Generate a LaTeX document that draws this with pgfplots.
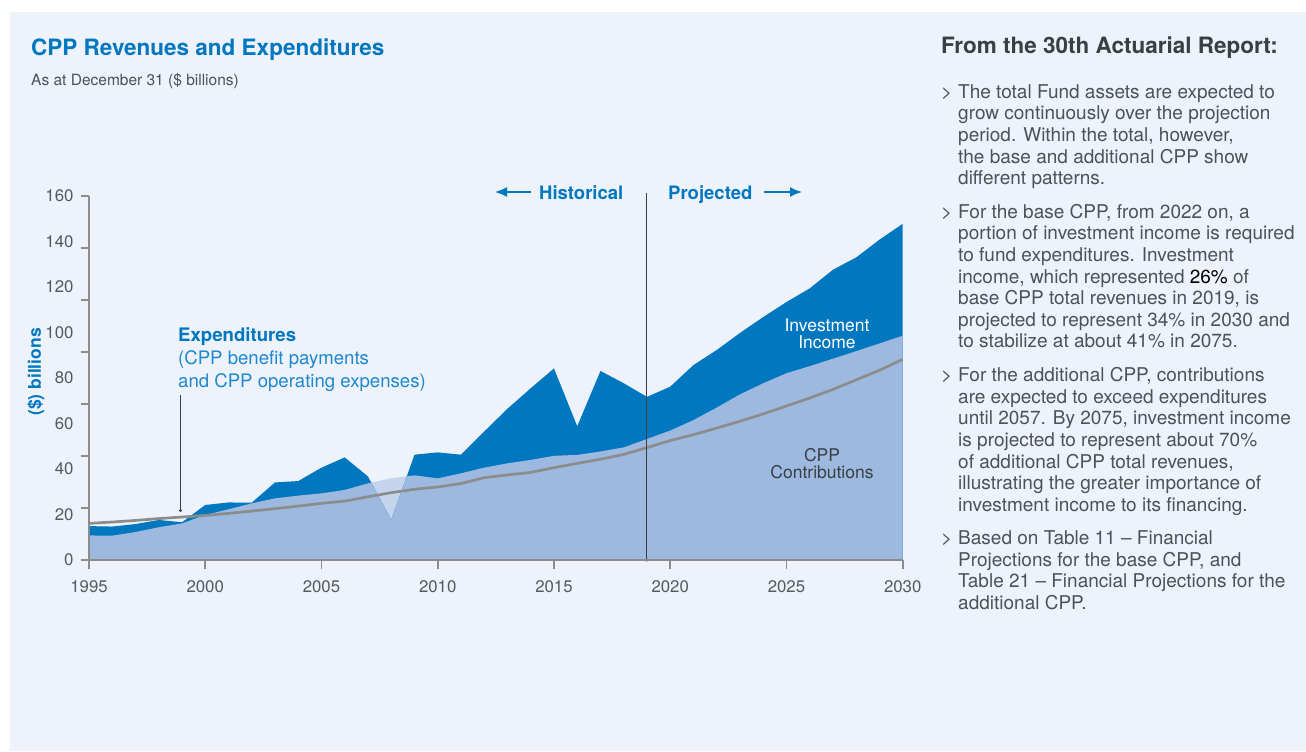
\documentclass[border=0pt]{standalone}
\usepackage{fontspec}
\setmainfont{TeX Gyre Heros}
\usepackage{pgfplots}
\pgfplotsset{compat=1.18}
\usepackage{pgfplotstable}
\usetikzlibrary{arrows.meta}

\definecolor{bg}{HTML}{EEF2FB}
\definecolor{dblue}{HTML}{0077BE}
\definecolor{lblue}{HTML}{9DB9E0}
\definecolor{pblue}{HTML}{C5D5EE}
\definecolor{lgray}{HTML}{8C8C8C}
\definecolor{txt}{HTML}{4D5259}
\definecolor{ttl}{HTML}{3A3F44}
\definecolor{annblue}{HTML}{1E88CF}
\definecolor{tickgray}{HTML}{555A60}

\newcommand{\fs}[2]{\fontsize{#1bp}{#2bp}\selectfont}

\pgfplotstableread{
year contrib total exp
1995 10.8 14.9 16.1
1996 10.7 14.7 16.7
1997 12.3 15.8 17.4
1998 14.4 17.6 18.2
1999 16.1 16.6 18.9
2000 19.8 24.2 19.6
2001 22.3 25.3 20.5
2002 24.9 25.2 21.5
2003 27.1 34.1 22.6
2004 28.3 34.7 23.7
2005 29.3 40.6 24.9
2006 30.8 45.1 25.9
2007 33.7 36.7 27.8
2008 36.0 17.6 29.6
2009 37.2 46.3 31.1
2010 35.9 47.3 32.1
2011 38.1 46.3 33.6
2012 40.6 56.5 36.2
2013 42.5 66.5 37.4
2014 44.0 75.5 38.5
2015 45.8 84.2 40.6
2016 46.2 58.8 42.5
2017 47.7 83.1 44.3
2018 49.5 77.7 46.4
2019 53.2 71.7 49.4
2020 56.9 76.2 52.5
2021 61.5 85.7 55.1
2022 67.0 92.3 58.0
2023 72.8 99.8 61.0
2024 77.7 106.8 64.2
2025 82.1 113.4 67.7
2026 85.2 119.4 71.2
2027 88.5 127.6 75.0
2028 91.8 133.0 79.2
2029 95.2 140.8 83.4
2030 98.6 147.8 88.2
}\cppdata

% lower of contributions and total revenues (total dips below contributions in 2008)
\pgfplotstableread{
year v
1995 10.8
1996 10.7
1997 12.3
1998 14.4
1999 16.1
2000 19.8
2001 22.3
2002 24.9
2003 27.1
2004 28.3
2005 29.3
2006 30.8
2007 33.7
2007.14 34.02
2008 17.6
2008.669 36.80
2009 37.2
2010 35.9
2011 38.1
2012 40.6
2013 42.5
2014 44.0
2015 45.8
2016 46.2
2017 47.7
2018 49.5
2019 53.2
2020 56.9
2021 61.5
2022 67.0
2023 72.8
2024 77.7
2025 82.1
2026 85.2
2027 88.5
2028 91.8
2029 95.2
2030 98.6
}\minser

\begin{document}
\begin{tikzpicture}[x=1bp,y=-1bp]
\fill[white] (0,0) rectangle (1306,751);
\fill[bg] (10,12) rectangle (1306,751);

\node[anchor=base west, inner sep=0, text=dblue, font=\bfseries\fs{22.5}{26}] at (31,56) {CPP Revenues and Expenditures};
\node[anchor=base west, inner sep=0, text=txt, font=\fs{15.5}{18}] at (31,85) {As at December 31 (\$ billions)};

\begin{axis}[
  at={(89bp,-560bp)}, anchor=south west,
  scale only axis, width=813.7bp, height=364bp,
  xmin=1995, xmax=2030, ymin=0, ymax=160,
  clip=false,
  axis on top,
  axis lines=left,
  axis line style={lgray, line width=1.8bp, -},
  every tick/.style={lgray, line width=1.8bp},
  tick align=outside,
  major tick length=8.5bp,
  xtick={1995,2000,...,2030},
  ytick={0,22.857143,45.714286,68.571429,91.428571,114.285714,137.142857,160},
  yticklabels={},
  extra y ticks={0,20,...,160},
  extra y tick style={major tick length=0pt, yticklabel style={xshift=-12bp}},
  tick label style={font=\fs{16.8}{18}, text=tickgray},
  xticklabel style={yshift=-9bp},
  /pgf/number format/assume math mode=true,
  /pgf/number format/1000 sep={},
]
\addplot[draw=none, fill=pblue] table[x=year, y=contrib] {\cppdata} \closedcycle;
\addplot[draw=none, fill=dblue] table[x=year, y=total] {\cppdata} \closedcycle;
\addplot[draw=none, fill=lblue] table[x=year, y=v] {\minser} \closedcycle;
\addplot[lgray, line width=2.7bp, line join=round] table[x=year, y=exp] {\cppdata};
\draw[ttl, line width=1bp] (axis cs:2019,0) -- (axis cs:2019,161.3);
\fill[ttl] (axis cs:2019,0) circle (1.6bp);
\end{axis}

\node[rotate=90, text=dblue, font=\bfseries\fs{17.5}{20}] at (36,372) {(\$) billions};

\node[anchor=base west, inner sep=0, text=dblue, font=\bfseries\fs{18.6}{23}] at (178,341) {Expenditures};
\node[anchor=base west, inner sep=0, text=annblue, font=\fs{18.6}{23}] at (178,364) {(CPP benefit payments};
\node[anchor=base west, inner sep=0, text=annblue, font=\fs{18.6}{23}] at (178,387) {and CPP operating expenses)};
\draw[ttl, line width=1bp] (180.5,395) -- (180.5,510);
\fill[ttl] (180.5,510.5) circle (1.6);

\draw[dblue, line width=1.6bp, -{Latex[length=12bp,width=10bp]}] (531,192) -- (495,192);
\node[anchor=base west, inner sep=0, text=dblue, font=\bfseries\fs{18.5}{22}] at (539,199.3) {Historical};
\node[anchor=base west, inner sep=0, text=dblue, font=\bfseries\fs{18.5}{22}] at (668,199.3) {Projected};
\draw[dblue, line width=1.6bp, -{Latex[length=12bp,width=10bp]}] (764,192) -- (802,192);

\node[anchor=base, inner sep=0, text=white, font=\fs{17.5}{18}] at (827,331) {Investment};
\node[anchor=base, inner sep=0, text=white, font=\fs{17.5}{18}] at (827,348.7) {Income};
\node[anchor=base, inner sep=0, text=ttl, font=\fs{17.5}{18}] at (822,461) {CPP};
\node[anchor=base, inner sep=0, text=ttl, font=\fs{17.5}{18}] at (822,478.3) {Contributions};

\node[anchor=base west, inner sep=0, text=ttl, font=\bfseries\fs{22.5}{25}] at (941,54) {From the 30th Actuarial Report:};

\foreach \yy in {98.3,218.3,381.7,544.5}
  \node[anchor=base west, inner sep=0, text=txt, font=\fs{19}{21.6}] at (941,\yy) {>};

\foreach \yy/\tt in {
  98.3/{The total Fund assets are expected to},
  119.9/{grow continuously over the projection},
  141.5/{period. Within the total, however,},
  163.1/{the base and additional CPP show},
  184.7/{different patterns.},
  218.3/{For the base CPP, from 2022 on, a},
  239.9/{portion of investment income is required},
  261.5/{to fund expenditures. Investment},
  283.1/{income, which represented \textcolor{black}{26\%} of},
  304.7/{base CPP total revenues in 2019, is},
  326.3/{projected to represent 34\% in 2030 and},
  347.9/{to stabilize at about 41\% in 2075.},
  381.7/{For the additional CPP, contributions},
  403.3/{are expected to exceed expenditures},
  424.9/{until 2057. By 2075, investment income},
  446.5/{is projected to represent about 70\%},
  468.1/{of additional CPP total revenues,},
  489.7/{illustrating the greater importance of},
  511.3/{investment income to its financing.},
  544.5/{Based on Table 11 -- Financial},
  566.1/{Projections for the base CPP, and},
  587.7/{Table 21 -- Financial Projections for the},
  609.3/{additional CPP.}}
  \node[anchor=base west, inner sep=0, text=txt, font=\fs{19}{21.6}] at (958,\yy) {\tt};

\pgfresetboundingbox
\useasboundingbox (0,0) rectangle (1306,751);
\end{tikzpicture}
\end{document}
